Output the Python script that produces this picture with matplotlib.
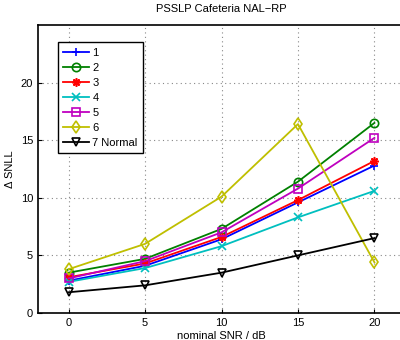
import numpy as np
import matplotlib.pyplot as plt

snr = [0, 5, 10, 15, 20]
labels = ["1", "2", "3", "4", "5", "6", "7 Normal"]
s1 = [2.8, 4.1, 6.4, 9.6, 12.8]
s2 = [3.5, 4.7, 7.3, 11.4, 16.5]
s3 = [3.1, 4.3, 6.6, 9.8, 13.2]
s4 = [2.7, 3.9, 5.8, 8.3, 10.6]
s5 = [3.0, 4.5, 7.0, 10.8, 15.2]
s6 = [3.8, 6.0, 10.1, 16.4, 4.4]
s7 = [1.8, 2.4, 3.5, 5.0, 6.5]

series = [s1, s2, s3, s4, s5, s6, s7]
colors = ["#0000ff", "#008000", "#ff0000", "#00bfbf", "#bf00bf", "#bfbf00", "#000000"]
markers = ["+", "o", (8, 2, 0), "x", "s", "d", "v"]

plt.rcParams['font.family'] = ['Liberation Sans', 'DejaVu Sans']
plt.rcParams['font.size'] = 8

fig = plt.figure(figsize=(4, 3.4), dpi=100)
ax = fig.add_axes([38 / 400, 27 / 340, 367 / 400, 288 / 340])

for y, lab, c, m in zip(series, labels, colors, markers):
    ax.plot(snr, y, color=c, marker=m, label=lab, linewidth=1.3,
            markersize=6, markerfacecolor='none', markeredgewidth=1.2)

ax.set_xlim(-2, 22)
ax.set_ylim(0, 25)
ax.set_xticks([0, 5, 10, 15, 20])
ax.set_yticks([0, 5, 10, 15, 20])
ax.grid(True, linestyle=(0, (1, 3)), color='#888888', linewidth=0.8)
ax.tick_params(direction='in', length=3)
for sp in ax.spines.values():
    sp.set_linewidth(1.2)

ax.set_xlabel("nominal SNR / dB", labelpad=2)
ax.set_ylabel("Δ SNLL", labelpad=4)
ax.set_title("PSSLP Cafeteria NAL−RP", fontsize=8, pad=9)

leg = ax.legend(loc='upper left', bbox_to_anchor=(0.054, 0.941), borderaxespad=0,
                fancybox=False, framealpha=1, edgecolor='black', handlelength=2.3,
                labelspacing=0.45, borderpad=0.5, handletextpad=0.3)
leg.get_frame().set_linewidth(1.0)

fig.savefig("out.png", dpi=100)
